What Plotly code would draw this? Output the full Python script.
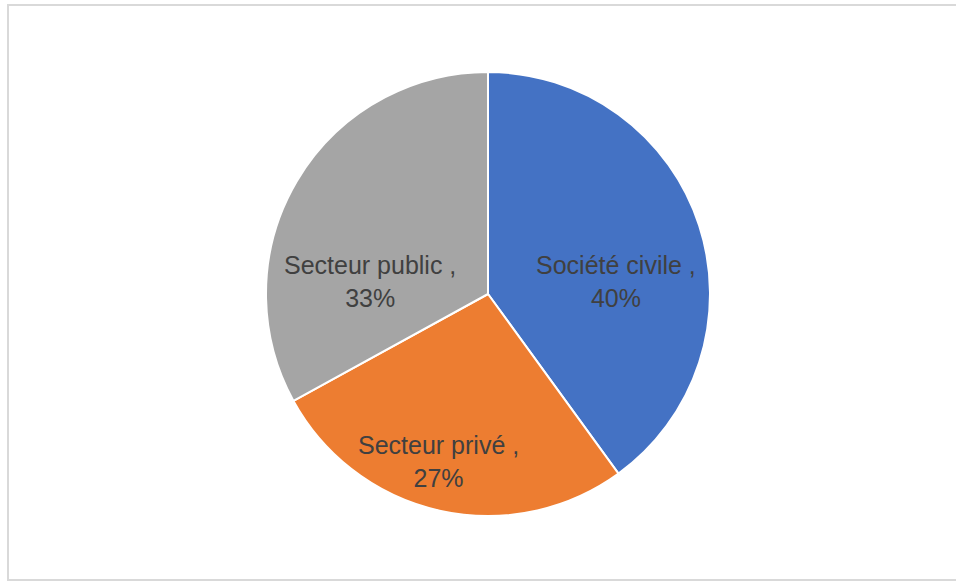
import plotly.graph_objects as go

# Répartition par secteur
labels = ["Société civile", "Secteur privé", "Secteur public"]
values = [40, 27, 33]
colors = ["#4472C4", "#ED7D31", "#A5A5A5"]

# Label anchor points (pixels) inside each slice
label_px = [(616, 281), (438, 461), (370, 281)]

W, H = 956, 582
cx, cy, r = 488, 294, 222

fig = go.Figure(
    go.Pie(
        labels=labels,
        values=values,
        sort=False,
        direction="clockwise",
        rotation=0,
        marker=dict(colors=colors, line=dict(color="white", width=2)),
        textinfo="none",
        hoverinfo="label+percent",
        domain=dict(
            x=[(cx - r) / W, (cx + r) / W],
            y=[(H - cy - r) / H, (H - cy + r) / H],
        ),
        showlegend=False,
    )
)

total = sum(values)
for lab, val, (px, py) in zip(labels, values, label_px):
    fig.add_annotation(
        x=px / W,
        y=1 - py / H,
        xref="paper",
        yref="paper",
        xanchor="center",
        yanchor="middle",
        text=f"{lab} ,<br>{round(100 * val / total)}%",
        showarrow=False,
        font=dict(family="Liberation Sans", size=25, color="#404040"),
        align="center",
    )

# Chart area border
fig.add_shape(
    type="rect",
    xref="paper",
    yref="paper",
    x0=8 / W,
    x1=1.02,
    y0=1 - 580 / H,
    y1=1 - 5 / H,
    line=dict(color="#D9D9D9", width=2),
    fillcolor="rgba(0,0,0,0)",
)

fig.update_layout(
    width=W,
    height=H,
    margin=dict(l=0, r=0, t=0, b=0),
    paper_bgcolor="white",
    plot_bgcolor="white",
)

fig.write_html("out.html")
